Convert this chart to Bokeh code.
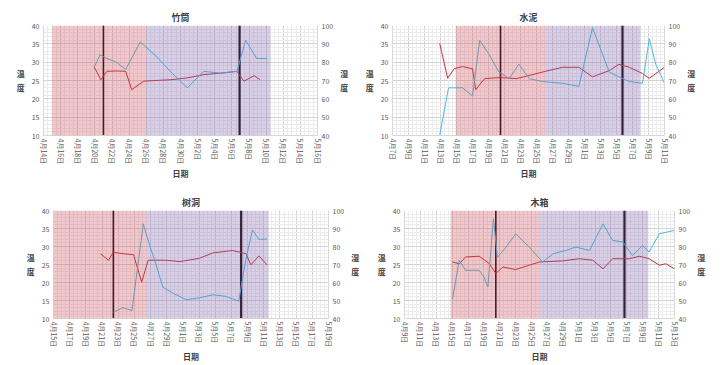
from bokeh.plotting import figure
from bokeh.models import Range1d, LinearAxis, FixedTicker, BoxAnnotation, Span
from bokeh.layouts import column, row
from bokeh.embed import file_html
from bokeh.resources import INLINE

FONT = "Noto Sans CJK SC"
TEMP_C = "#c8323c"
HUM_C = "#4cbcd8"
PINK = "#cd3a48"
PURPLE = "#7655ac"

# ---------------- data ----------------
tl_title = "竹筒"
tl_labels = ["4月14日", "4月16日", "4月18日", "4月20日", "4月22日", "4月24日", "4月26日", "4月28日",
             "4月30日", "5月2日", "5月4日", "5月6日", "5月8日", "5月10日", "5月12日", "5月14日", "5月16日"]
tl_temp_day = [5.9, 6.7, 7.4, 8.5, 9.6, 10.3, 11.7, 13.0, 14.8, 16.8, 18.7, 20.7, 22.6, 23.4, 24.6, 25.3]
tl_temp = [28.8, 25.2, 27.5, 27.6, 27.5, 22.5, 24.8, 25.0, 25.2, 25.7, 26.6, 27.0, 27.5, 24.8, 26.3, 25.2]
tl_hum_day = [5.9, 6.6, 7.4, 8.5, 9.6, 11.3, 13.0, 14.8, 16.8, 18.7, 20.7, 22.6, 23.6, 24.9, 26.1]
tl_hum = [77, 84, 82, 80, 76, 91, 84, 75, 66, 75, 74, 75, 92, 82, 82]
tl_pink = [1.0, 12.0]
tl_purple = [12.0, 26.5]
tl_marks = [7.0, 22.9]

tr_title = "水泥"
tr_labels = ["4月7日", "4月9日", "4月11日", "4月13日", "4月15日", "4月17日", "4月19日", "4月21日", "4月23日",
             "4月25日", "4月27日", "4月29日", "5月1日", "5月3日", "5月5日", "5月7日", "5月9日", "5月11日"]
tr_temp_day = [5.9, 6.9, 7.7, 8.75, 10.0, 10.4, 11.5, 13.5, 15.5, 17.3, 19.1, 21.25, 23.3, 25.0, 27.1,
               28.3, 29.6, 31.25, 32.1, 34.0]
tr_temp = [35.1, 25.6, 28.2, 28.8, 28.2, 22.5, 25.5, 25.8, 25.5, 26.5, 27.5, 28.6, 28.6, 26.0, 27.7,
           29.4, 28.6, 26.9, 25.6, 28.6]
tr_hum_day = [5.9, 7.0, 8.75, 10.0, 10.9, 12.1, 13.3, 14.6, 15.8, 17.1, 18.75, 21.25, 23.3, 25.0, 27.1,
              28.3, 29.6, 31.25, 32.1, 32.9, 34.0]
tr_hum = [40, 66, 66, 61.6, 91.9, 84, 74.6, 71.1, 78.9, 71, 69.4, 68.5, 66.8, 98.8, 74.6,
          72, 69.4, 68.5, 92.7, 78.9, 68.5]
tr_pink = [7.9, 19.1]
tr_purple = [19.1, 31.0]
tr_marks = [13.5, 28.75]

bl_title = "树洞"
bl_labels = ["4月15日", "4月17日", "4月19日", "4月21日", "4月23日", "4月25日", "4月27日", "4月29日", "5月1日",
             "5月3日", "5月5日", "5月7日", "5月9日", "5月11日", "5月13日", "5月15日", "5月17日", "5月19日"]
bl_temp_day = [5.8, 6.8, 7.4, 8.6, 9.9, 10.9, 11.7, 13.9, 15.6, 18.0, 19.7, 22.1, 23.8, 24.4, 25.4, 26.4]
bl_temp = [28.0, 26.2, 28.4, 28.0, 27.7, 20.1, 26.2, 26.2, 25.8, 26.7, 28.2, 28.9, 28.0, 24.9, 27.4, 24.9]
bl_hum_day = [7.4, 8.6, 9.7, 11.1, 11.9, 12.7, 13.5, 14.8, 16.4, 18.0, 19.7, 21.3, 22.9, 23.8, 24.6, 25.4, 26.4]
bl_hum = [43.5, 46, 44.4, 92.6, 80.4, 69.8, 57.5, 54, 50.5, 51.4, 53.2, 52.3, 49.6, 73.3, 89.1, 83.9, 84.2]
bl_pink = [0.0, 11.5]
bl_purple = [11.5, 26.6]
bl_marks = [7.4, 23.2]

br_title = "木箱"
br_labels = ["4月9日", "4月11日", "4月13日", "4月15日", "4月17日", "4月19日", "4月21日", "4月23日", "4月25日",
             "4月27日", "4月29日", "5月1日", "5月3日", "5月5日", "5月7日", "5月9日", "5月11日", "5月13日"]
br_temp_day = [6.05, 6.9, 7.7, 9.4, 10.7, 11.5, 12.4, 14.0, 15.7, 17.0, 19.9, 22.0, 23.7, 25.0, 26.2,
               28.3, 29.6, 30.8, 32.1, 32.9, 34.0]
br_temp = [25.7, 25.2, 27.1, 27.3, 25.2, 22.5, 24.3, 23.6, 24.8, 25.7, 26.0, 26.6, 26.2, 23.8, 26.6,
           26.6, 27.3, 26.6, 24.8, 25.2, 23.8]
br_hum_day = [6.05, 6.9, 7.7, 9.4, 10.0, 10.5, 11.2, 11.7, 12.8, 14.0, 15.7, 17.4, 18.7, 20.3, 21.6,
              23.3, 25.0, 26.2, 27.5, 28.7, 30.0, 30.8, 32.1, 34.0]
br_hum = [51, 72.3, 66.8, 66.8, 63.1, 57.5, 95.4, 74, 79.7, 87.1, 79.7, 71.4, 76, 77.8, 79.7,
          77.8, 92.6, 83.4, 82.5, 75, 80.6, 76.9, 87.1, 88.9]
br_pink = [5.8, 17.0]
br_purple = [17.0, 30.7]
br_marks = [11.5, 27.7]

temp_ticks = [10, 15, 20, 25, 30, 35, 40]
hum_ticks = [40, 50, 60, 70, 80, 90, 100]


def style_axis(ax):
    ax.major_label_text_font = FONT
    ax.major_label_text_font_size = "7px"
    ax.major_label_text_color = "#595959"
    ax.axis_label_text_font = FONT
    ax.axis_label_text_font_size = "8px"
    ax.axis_label_text_font_style = "bold"
    ax.axis_label_text_color = "#404040"
    ax.axis_line_color = "#d9d9d9"
    ax.major_tick_line_color = None
    ax.minor_tick_line_color = None
    ax.major_tick_out = 0
    ax.minor_tick_out = 0
    ax.major_tick_in = 0
    ax.minor_tick_in = 0
    ax.major_label_standoff = 4
    ax.axis_label_standoff = 4


def panel(title, labels, t_x, t_y, h_x, h_y, pink, purple, marks, w, h, bl, br, bt, bb):
    n = len(labels)
    span = 2 * (n - 1)
    p = figure(width=w, height=h, x_range=Range1d(0, span), y_range=Range1d(10, 40),
               output_backend="svg", toolbar_location=None,
               min_border_left=bl, min_border_right=br, min_border_top=bt, min_border_bottom=bb)
    p.extra_y_ranges = {"hum": Range1d(40, 100)}
    p.title.text = title
    p.title.align = "center"
    p.title.text_font = FONT
    p.title.text_font_size = "9px"
    p.title.text_font_style = "bold"
    p.title.text_color = "#404040"
    p.title.standoff = 4
    p.outline_line_color = None

    ticks = [2 * i for i in range(n)]
    minor = [0.5 * i for i in range(4 * (n - 1) + 1)]
    p.xaxis.ticker = FixedTicker(ticks=ticks, minor_ticks=minor)
    p.xaxis.major_label_overrides = {t: l for t, l in zip(ticks, labels)}
    p.xaxis.major_label_orientation = "vertical"
    p.xaxis.axis_label = "日期"
    p.yaxis.ticker = FixedTicker(ticks=temp_ticks, minor_ticks=list(range(10, 41)))
    p.yaxis.axis_label = "温\n度"
    p.yaxis.axis_label_orientation = "horizontal"

    hax = LinearAxis(y_range_name="hum", ticker=FixedTicker(ticks=hum_ticks),
                     axis_label="湿\n度", axis_label_orientation="horizontal")
    p.add_layout(hax, "right")
    for ax in [p.xaxis[0], p.yaxis[0], hax]:
        style_axis(ax)
    p.xaxis.major_label_standoff = 3
    p.xaxis.axis_label_standoff = 1

    p.xgrid.grid_line_color = "#d4d4d4"
    p.ygrid.grid_line_color = "#d4d4d4"
    p.xgrid.minor_grid_line_color = "#ececec"
    p.ygrid.minor_grid_line_color = "#ececec"

    for i, m in enumerate(marks):
        p.add_layout(Span(location=m, dimension="height", line_color="#1a0d10",
                          line_width=1.6 if i == 0 else 2.2, level="underlay"))

    p.line(t_x, t_y, color=TEMP_C, line_width=1.0)
    p.line(h_x, h_y, y_range_name="hum", color=HUM_C, line_width=1.0)

    p.add_layout(BoxAnnotation(left=pink[0], right=pink[1], fill_color=PINK, fill_alpha=0.28,
                               line_color=None))
    p.add_layout(BoxAnnotation(left=purple[0], right=purple[1], fill_color=PURPLE, fill_alpha=0.28,
                               line_color=None))
    return p


tl = panel(tl_title, tl_labels, tl_temp_day, tl_temp, tl_hum_day, tl_hum, tl_pink, tl_purple, tl_marks,
           362, 182, 43, 45, 25, 45)
tr = panel(tr_title, tr_labels, tr_temp_day, tr_temp, tr_hum_day, tr_hum, tr_pink, tr_purple, tr_marks,
           362, 182, 30, 60, 23, 44)
bl = panel(bl_title, bl_labels, bl_temp_day, bl_temp, bl_hum_day, bl_hum, bl_pink, bl_purple, bl_marks,
           362, 183, 53, 34, 26, 44)
br = panel(br_title, br_labels, br_temp_day, br_temp, br_hum_day, br_hum, br_pink, br_purple, br_marks,
           362, 183, 42, 50, 28, 47)

layout = column(row(tl, tr), row(bl, br))
open("out.html", "w").write(file_html(layout, INLINE))
